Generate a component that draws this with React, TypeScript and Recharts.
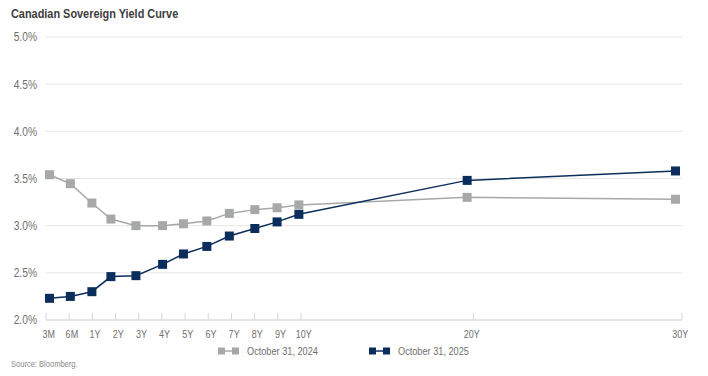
import { LineChart, Line, XAxis, YAxis, CartesianGrid } from 'recharts';

const TENORS = ['3M', '6M', '1Y', '2Y', '3Y', '4Y', '5Y', '6Y', '7Y', '8Y', '9Y', '10Y', '20Y', '30Y'];
// where each tenor sits on the (uneven) source axis, in tick units
const TENOR_POS = [0.15, 1.05, 1.98, 2.8, 3.88, 5.03, 5.93, 6.94, 7.91, 9.01, 9.97, 10.91, 18.17, 27.16];
const TICK_POS = [0, 1, 2, 3, 4, 5, 6, 7, 8, 9, 10, 11, 18.44, 27.44];
const YIELD_2024 = [3.54, 3.445, 3.24, 3.07, 3.0, 3.0, 3.02, 3.05, 3.13, 3.17, 3.19, 3.22, 3.3, 3.28];
const YIELD_2025 = [2.23, 2.25, 2.3, 2.46, 2.47, 2.59, 2.7, 2.78, 2.89, 2.97, 3.04, 3.12, 3.48, 3.58];
const Y_TICKS = [2, 2.5, 3, 3.5, 4, 4.5, 5];

const SERIES = [
  { key: 'y2024', name: 'October 31, 2024', color: '#a7a9a9' },
  { key: 'y2025', name: 'October 31, 2025', color: '#0b2d5b' },
];

const data = TENORS.map((t, i) => ({
  tenor: t,
  pos: TENOR_POS[i],
  y2024: YIELD_2024[i],
  y2025: YIELD_2025[i],
}));

// no condensed face installed, so squeeze Liberation Sans horizontally
const FONT = '"Liberation Sans", Arial, sans-serif';
const SQUEEZE = 0.82;
const LABEL = '#6f6f6f';

const squareDot = (color: string) => (props: any) => {
  const { cx, cy, index } = props;
  return <rect key={index} x={cx - 4.5} y={cy - 4.5} width={9} height={9} fill={color} />;
};

function XTick(props: any) {
  const { x, y, payload, index } = props;
  const label = TENORS[index] ?? payload.value;
  const dx = index < 12 ? 2.7 : -1.7;
  return (
    <text
      transform={`translate(${x + dx},${y}) scale(${SQUEEZE},1)`}
      dy="0.71em"
      textAnchor="middle"
      fill={LABEL}
      fontSize={11}
      fontFamily={FONT}
    >
      {label}
    </text>
  );
}

function YTick(props: any) {
  const { x, y, payload } = props;
  return (
    <text
      transform={`translate(${x},${y}) scale(${SQUEEZE},1)`}
      dy="0.355em"
      textAnchor="end"
      fill={LABEL}
      fontSize={12.5}
      fontFamily={FONT}
    >
      {payload.value.toFixed(1) + '%'}
    </text>
  );
}

function LegendIcon({ color }: { color: string }) {
  return (
    <svg width={21} height={8} style={{ display: 'block' }}>
      <rect x={0} y={0.5} width={7} height={7} fill={color} />
      <line x1={7} y1={4} x2={14} y2={4} stroke={color} strokeWidth={1.5} />
      <rect x={14} y={0.5} width={7} height={7} fill={color} />
    </svg>
  );
}

const squeezed = { display: 'inline-block', transform: `scaleX(${SQUEEZE})`, transformOrigin: 'left center', whiteSpace: 'nowrap' as const };

export default function App() {
  const legendLeft = [218, 369];
  return (
    <div
      style={{
        position: 'absolute',
        left: 0,
        top: 0,
        width: 708,
        height: 376,
        background: '#fff',
        fontFamily: FONT,
      }}
    >
      <div
        style={{
          position: 'absolute',
          left: 11,
          top: 6,
          fontSize: 13.3,
          lineHeight: '16px',
          fontWeight: 700,
          color: '#3d3d3d',
        }}
      >
        <span style={squeezed}>Canadian Sovereign Yield Curve</span>
      </div>

      <LineChart width={708} height={376} data={data} margin={{ top: 37, right: 26, left: 8, bottom: 36 }}>
        <CartesianGrid horizontal vertical={false} stroke="#e6e6e6" />
        <XAxis
          dataKey="pos"
          type="number"
          domain={[0, 27.44]}
          ticks={TICK_POS}
          interval={0}
          height={20}
          stroke="#d6d6d6"
          tickSize={-7}
          tickMargin={17.5}
          tick={<XTick />}
        />
        <YAxis
          domain={[2, 5]}
          ticks={Y_TICKS}
          width={38}
          axisLine={false}
          tickLine={false}
          tickSize={0}
          tickMargin={9}
          tick={<YTick />}
        />
        {SERIES.map((s) => (
          <Line
            key={s.key}
            type="linear"
            dataKey={s.key}
            name={s.name}
            stroke={s.color}
            strokeWidth={1.5}
            dot={squareDot(s.color)}
            activeDot={false}
            isAnimationActive={false}
          />
        ))}
      </LineChart>

      {SERIES.map((s, i) => (
        <div
          key={s.key}
          style={{
            position: 'absolute',
            left: legendLeft[i],
            top: 344,
            height: 14,
            display: 'flex',
            alignItems: 'center',
            gap: 8,
            fontSize: 11.2,
            color: LABEL,
          }}
        >
          <LegendIcon color={s.color} />
          <span style={squeezed}>{s.name}</span>
        </div>
      ))}

      <div
        style={{
          position: 'absolute',
          left: 11,
          top: 359,
          fontSize: 9.2,
          lineHeight: '11px',
          color: '#8a8a8a',
        }}
      >
        <span style={squeezed}>Source: Bloomberg.</span>
      </div>
    </div>
  );
}
